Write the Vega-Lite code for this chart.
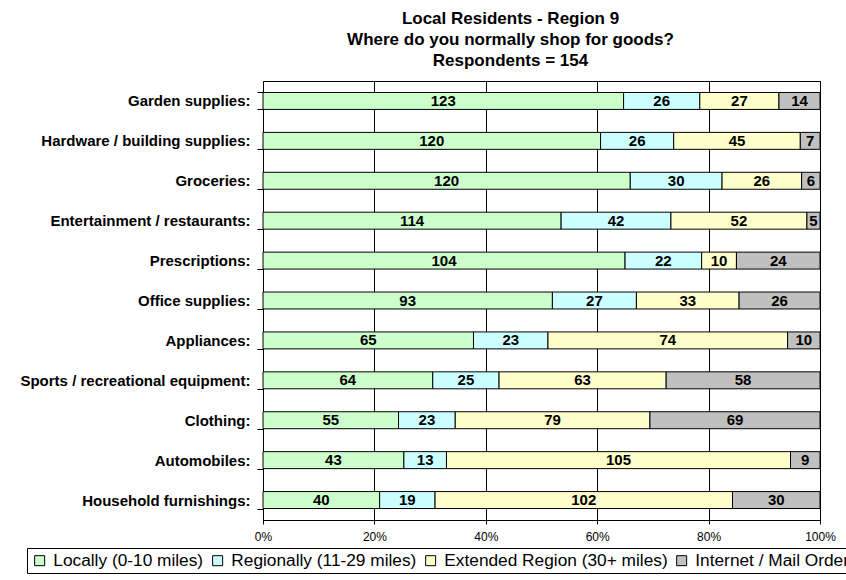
{
  "$schema": "https://vega.github.io/schema/vega-lite/v6.json",
  "width": 557,
  "height": 439,
  "autosize": {"type": "none"},
  "padding": {"left": 263, "top": 81, "right": 26, "bottom": 60},
  "background": "white",
  "config": {
    "font": "Liberation Sans",
    "view": {"stroke": "black", "strokeWidth": 1},
    "axisX": {
      "labelFontSize": 12,
      "labelColor": "black",
      "labelPadding": 7,
      "labelFlush": false,
      "labelOverlap": false,
      "tickSize": 4,
      "tickColor": "black",
      "domainColor": "black",
      "grid": true,
      "gridColor": "black",
      "gridOpacity": 1
    }
  },
  "title": {
    "text": ["Local Residents - Region 9", "Where do you normally shop for goods?", "Respondents = 154"],
    "fontSize": 17,
    "fontWeight": "bold",
    "color": "black",
    "lineHeight": 21,
    "anchor": "middle",
    "frame": "group",
    "offset": 4,
    "dx": -31
  },
  "data": {
    "values": [
      {"cat": "Garden supplies:", "src": "Locally (0-10 miles)", "ord": 1, "n": 123},
      {"cat": "Garden supplies:", "src": "Regionally (11-29 miles)", "ord": 2, "n": 26},
      {"cat": "Garden supplies:", "src": "Extended Region (30+ miles)", "ord": 3, "n": 27},
      {"cat": "Garden supplies:", "src": "Internet / Mail Order", "ord": 4, "n": 14},
      {"cat": "Hardware / building supplies:", "src": "Locally (0-10 miles)", "ord": 1, "n": 120},
      {"cat": "Hardware / building supplies:", "src": "Regionally (11-29 miles)", "ord": 2, "n": 26},
      {"cat": "Hardware / building supplies:", "src": "Extended Region (30+ miles)", "ord": 3, "n": 45},
      {"cat": "Hardware / building supplies:", "src": "Internet / Mail Order", "ord": 4, "n": 7},
      {"cat": "Groceries:", "src": "Locally (0-10 miles)", "ord": 1, "n": 120},
      {"cat": "Groceries:", "src": "Regionally (11-29 miles)", "ord": 2, "n": 30},
      {"cat": "Groceries:", "src": "Extended Region (30+ miles)", "ord": 3, "n": 26},
      {"cat": "Groceries:", "src": "Internet / Mail Order", "ord": 4, "n": 6},
      {"cat": "Entertainment / restaurants:", "src": "Locally (0-10 miles)", "ord": 1, "n": 114},
      {"cat": "Entertainment / restaurants:", "src": "Regionally (11-29 miles)", "ord": 2, "n": 42},
      {"cat": "Entertainment / restaurants:", "src": "Extended Region (30+ miles)", "ord": 3, "n": 52},
      {"cat": "Entertainment / restaurants:", "src": "Internet / Mail Order", "ord": 4, "n": 5},
      {"cat": "Prescriptions:", "src": "Locally (0-10 miles)", "ord": 1, "n": 104},
      {"cat": "Prescriptions:", "src": "Regionally (11-29 miles)", "ord": 2, "n": 22},
      {"cat": "Prescriptions:", "src": "Extended Region (30+ miles)", "ord": 3, "n": 10},
      {"cat": "Prescriptions:", "src": "Internet / Mail Order", "ord": 4, "n": 24},
      {"cat": "Office supplies:", "src": "Locally (0-10 miles)", "ord": 1, "n": 93},
      {"cat": "Office supplies:", "src": "Regionally (11-29 miles)", "ord": 2, "n": 27},
      {"cat": "Office supplies:", "src": "Extended Region (30+ miles)", "ord": 3, "n": 33},
      {"cat": "Office supplies:", "src": "Internet / Mail Order", "ord": 4, "n": 26},
      {"cat": "Appliances:", "src": "Locally (0-10 miles)", "ord": 1, "n": 65},
      {"cat": "Appliances:", "src": "Regionally (11-29 miles)", "ord": 2, "n": 23},
      {"cat": "Appliances:", "src": "Extended Region (30+ miles)", "ord": 3, "n": 74},
      {"cat": "Appliances:", "src": "Internet / Mail Order", "ord": 4, "n": 10},
      {"cat": "Sports / recreational equipment:", "src": "Locally (0-10 miles)", "ord": 1, "n": 64},
      {"cat": "Sports / recreational equipment:", "src": "Regionally (11-29 miles)", "ord": 2, "n": 25},
      {"cat": "Sports / recreational equipment:", "src": "Extended Region (30+ miles)", "ord": 3, "n": 63},
      {"cat": "Sports / recreational equipment:", "src": "Internet / Mail Order", "ord": 4, "n": 58},
      {"cat": "Clothing:", "src": "Locally (0-10 miles)", "ord": 1, "n": 55},
      {"cat": "Clothing:", "src": "Regionally (11-29 miles)", "ord": 2, "n": 23},
      {"cat": "Clothing:", "src": "Extended Region (30+ miles)", "ord": 3, "n": 79},
      {"cat": "Clothing:", "src": "Internet / Mail Order", "ord": 4, "n": 69},
      {"cat": "Automobiles:", "src": "Locally (0-10 miles)", "ord": 1, "n": 43},
      {"cat": "Automobiles:", "src": "Regionally (11-29 miles)", "ord": 2, "n": 13},
      {"cat": "Automobiles:", "src": "Extended Region (30+ miles)", "ord": 3, "n": 105},
      {"cat": "Automobiles:", "src": "Internet / Mail Order", "ord": 4, "n": 9},
      {"cat": "Household furnishings:", "src": "Locally (0-10 miles)", "ord": 1, "n": 40},
      {"cat": "Household furnishings:", "src": "Regionally (11-29 miles)", "ord": 2, "n": 19},
      {"cat": "Household furnishings:", "src": "Extended Region (30+ miles)", "ord": 3, "n": 102},
      {"cat": "Household furnishings:", "src": "Internet / Mail Order", "ord": 4, "n": 30}
    ]
  },
  "transform": [
    {"stack": "n", "groupby": ["cat"], "sort": [{"field": "ord", "order": "ascending"}], "offset": "normalize", "as": ["x0", "x1"]}
  ],
  "encoding": {
    "y": {
      "field": "cat",
      "type": "nominal",
      "sort": ["Garden supplies:", "Hardware / building supplies:", "Groceries:", "Entertainment / restaurants:", "Prescriptions:", "Office supplies:", "Appliances:", "Sports / recreational equipment:", "Clothing:", "Automobiles:", "Household furnishings:"],
      "scale": {"paddingInner": 0.575, "paddingOuter": 0.2875},
      "axis": {
        "title": null,
        "labelFontSize": 15,
        "labelFontWeight": "bold",
        "labelColor": "black",
        "labelLimit": 400,
        "labelPadding": 7,
        "tickSize": 6,
        "tickColor": "black",
        "tickBand": "extent",
        "domainColor": "black"
      }
    }
  },
  "layer": [
    {
      "mark": {"type": "bar", "stroke": "black", "strokeWidth": 1},
      "encoding": {
        "x": {
          "field": "x0",
          "type": "quantitative",
          "scale": {"domain": [0, 1], "nice": false},
          "title": null,
          "axis": {"values": [0, 0.2, 0.4, 0.6, 0.8, 1], "format": ".0%"}
        },
        "x2": {"field": "x1"},
        "color": {
          "field": "src",
          "type": "nominal",
          "scale": {
            "domain": ["Locally (0-10 miles)", "Regionally (11-29 miles)", "Extended Region (30+ miles)", "Internet / Mail Order"],
            "range": ["#CCFFCC", "#CCFFFF", "#FFFFCC", "#C0C0C0"]
          },
          "legend": {
            "title": null,
            "orient": "none",
            "legendX": -236,
            "legendY": 467,
            "direction": "horizontal",
            "symbolType": "square",
            "symbolSize": 100,
            "symbolStrokeColor": "black",
            "symbolStrokeWidth": 1,
            "symbolOpacity": 1,
            "labelFontSize": 17.3,
            "labelColor": "black",
            "labelLimit": 500,
            "labelOffset": 5,
            "columnPadding": 5,
            "strokeColor": "black",
            "fillColor": "white",
            "padding": 4
          }
        }
      }
    },
    {
      "transform": [{"fold": ["x0", "x1"], "as": ["k", "v"]}],
      "mark": {"type": "text", "fontWeight": "bold", "fontSize": 15, "color": "black"},
      "encoding": {
        "x": {
          "aggregate": "mean",
          "field": "v",
          "type": "quantitative",
          "title": null,
          "axis": {"values": [0, 0.2, 0.4, 0.6, 0.8, 1], "format": ".0%"}
        },
        "text": {"field": "n", "type": "quantitative"},
        "detail": {"field": "src"}
      }
    }
  ]
}
